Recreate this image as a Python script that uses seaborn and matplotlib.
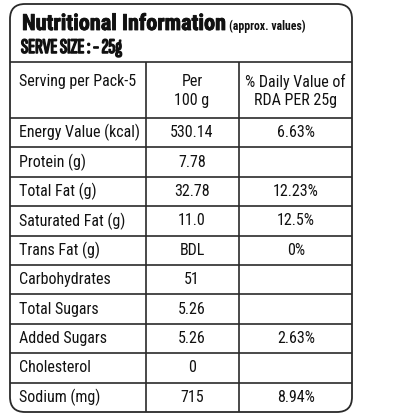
import numpy as np
import pandas as pd
import matplotlib
matplotlib.use('Agg')
import matplotlib.pyplot as plt
import matplotlib.patheffects as pe
from matplotlib.patches import FancyBboxPatch
import seaborn as sns

# table contents
nutrients = ["Energy Value (kcal)", "Protein (g)", "Total Fat (g)", "Saturated Fat (g)",
             "Trans Fat (g)", "Carbohydrates", "Total Sugars", "Added Sugars",
             "Cholesterol", "Sodium (mg)"]
per_100g = ["530.14", "7.78", "32.78", "11.0", "BDL", "51", "5.26", "5.26", "0", "715"]
rda_25g = ["6.63%", "", "12.23%", "12.5%", "0%", "", "", "2.63%", "", "8.94%"]
headers = ["Serving per Pack-5", "Per\n100 g", "% Daily Value of\nRDA PER 25g"]
title = "Nutritional Information"
subtitle = "(approx. values)"
serve = "SERVE SIZE : - 25g"

table = pd.DataFrame({"nutrient": nutrients, "per100": per_100g, "rda": rda_25g})

sns.set_theme(style="white")
plt.rcParams['font.family'] = ['Roboto Condensed', 'DejaVu Sans']
narrow = ['Sofia Sans Extra Condensed', 'Roboto Condensed', 'DejaVu Sans']

fig = plt.figure(figsize=(4.16, 4.16), dpi=100)
ax = fig.add_axes([0, 0, 1, 1])
ax.set_xlim(0, 416)
ax.set_ylim(416, 0)
ax.axis('off')

ink = '#2a2a2a'
txt = '#111111'
left, right, top, bottom = 10, 352, 4, 412
col_x = [146, 239]
head_y = 62
row_top = 118
row_h = (bottom - row_top) / len(table)

box = FancyBboxPatch((left, top), right - left, bottom - top,
                     boxstyle="round,pad=0,rounding_size=15",
                     fc='white', ec=ink, lw=1.3)
ax.add_patch(box)

ax.hlines([head_y, row_top], left, right, color=ink, lw=1.2)
ys = row_top + row_h * np.arange(1, len(table))
ax.hlines(ys, left, right, color=ink, lw=1.2)
ax.vlines(col_x, head_y, bottom, color=ink, lw=1.2)

# heavier look for the heading texts
thick = [pe.withStroke(linewidth=0.6, foreground=txt)]
t = ax.text(22, 30, title, fontsize=16, fontweight=800, color=txt, va='baseline',
            path_effects=thick)
fig.canvas.draw()
bb = t.get_window_extent().transformed(ax.transData.inverted())
ax.text(bb.x1 + 3, 30, subtitle, fontsize=8.5, fontweight='bold', color=txt, va='baseline')
ax.text(21, 53, serve, fontsize=15, fontweight='bold', color=txt, va='baseline', family=narrow,
        path_effects=[pe.withStroke(linewidth=1.1, foreground=txt)])

hc = (head_y + row_top) / 2 + 1
ax.text(19, 86, headers[0], fontsize=11.5, color=txt, va='baseline', ha='left')
ax.text(192, hc, headers[1], fontsize=11.5, color=txt, va='center', ha='center', linespacing=1.3)
ax.text(295, hc, headers[2], fontsize=11.5, color=txt, va='center', ha='center', linespacing=1.3)

for i, r in table.iterrows():
    yc = row_top + row_h * (i + 0.5)
    ax.text(19, yc, r['nutrient'], fontsize=11.5, color=txt, va='center', ha='left')
    ax.text(192, yc, r['per100'], fontsize=11.5, color=txt, va='center', ha='center')
    ax.text(296, yc, r['rda'], fontsize=11.5, color=txt, va='center', ha='center')

fig.savefig('out.png', dpi=100, facecolor='white')
